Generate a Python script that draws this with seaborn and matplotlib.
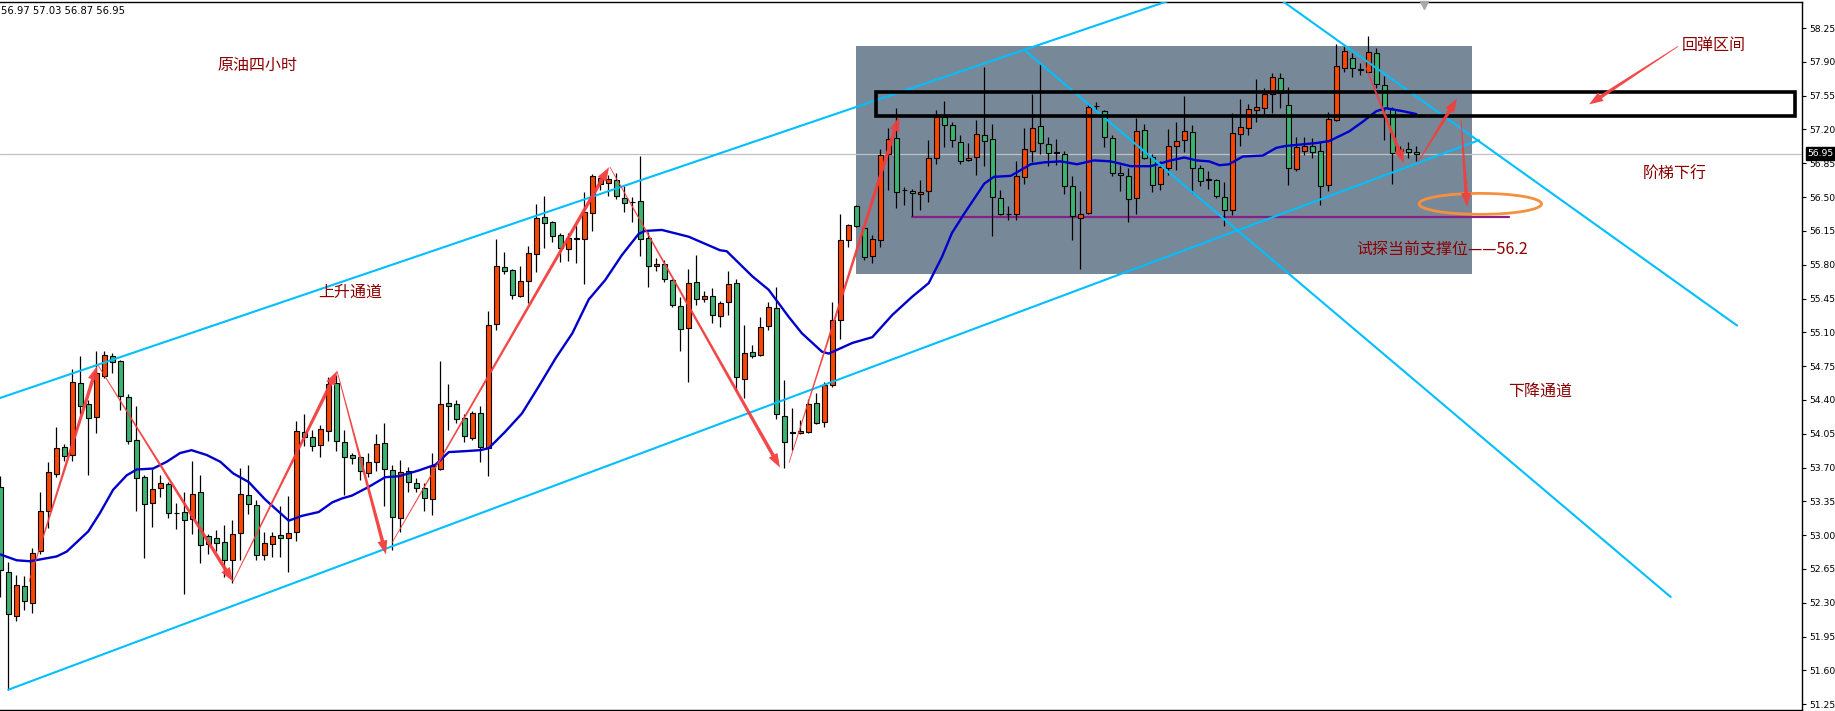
import numpy as np
import matplotlib
matplotlib.use('Agg')
import matplotlib.pyplot as plt
import seaborn as sns
from matplotlib.patches import Rectangle, Ellipse, Polygon
from matplotlib.transforms import IdentityTransform, blended_transform_factory

# 4h crude oil candles
opens = [53.50, 52.62, 52.16, 52.47, 52.30, 52.84, 53.25, 53.63, 53.91, 53.83,
         54.58, 54.36, 54.22, 54.65, 54.86, 54.80, 54.43, 53.99, 53.60, 53.33,
         53.49, 53.53, 53.23, 53.24, 53.17, 53.45, 52.99, 52.97, 52.93, 52.74,
         53.02, 53.42, 53.31, 52.79, 52.91, 53.00, 52.97, 53.03, 54.07, 54.02,
         53.93, 54.08, 54.58, 53.96, 53.83, 53.81, 53.64, 53.76, 53.95, 53.67,
         53.18, 53.66, 53.54, 53.49, 53.37, 53.69, 54.37, 54.36, 54.21, 54.01,
         54.26, 53.90, 55.19, 55.78, 55.75, 55.48, 55.63, 55.91, 56.29, 56.24,
         56.11, 55.96, 56.07, 56.07, 56.34, 56.64, 56.65, 56.68, 56.49, 56.45,
         56.46, 56.08, 55.79, 55.81, 55.64, 55.37, 55.14, 55.62, 55.44, 55.48,
         55.27, 55.41, 55.61, 54.62, 54.90, 54.87, 55.17, 55.35, 54.23, 54.06,
         54.06, 54.07, 54.37, 54.17, 54.55, 55.23, 56.06, 56.41, 56.18, 55.89,
         56.06, 56.95, 57.11, 56.57, 56.56, 56.53, 56.56, 56.90, 57.33, 57.25,
         57.07, 56.88, 56.92, 57.14, 57.10, 56.49, 56.32, 56.32, 56.71, 56.98,
         57.24, 57.05, 56.96, 56.95, 56.62, 56.28, 56.34, 57.44, 57.39, 57.11,
         56.75, 56.72, 56.49, 57.19, 56.92, 56.64, 56.80, 57.03, 57.09, 57.17,
         56.80, 56.68, 56.68, 56.50, 56.37, 57.15, 57.22, 57.40, 57.42, 57.57,
         57.73, 57.45, 56.79, 56.98, 57.03, 56.98, 56.63, 57.30, 57.84, 57.94,
         57.83, 57.80, 57.99, 57.66, 57.41, 56.98, 57.00, 56.97]
highs = [53.61, 52.72, 52.59, 52.58, 52.87, 53.45, 53.76, 54.12, 53.94, 54.72,
         54.86, 54.40, 54.91, 54.91, 54.89, 54.81, 54.46, 54.34, 53.62, 53.68,
         53.62, 53.55, 53.33, 53.45, 53.77, 53.62, 53.01, 53.05, 53.11, 53.16,
         53.70, 53.73, 53.36, 53.03, 53.03, 53.30, 53.41, 54.18, 54.25, 54.09,
         54.14, 54.64, 54.66, 54.09, 53.85, 53.82, 53.85, 54.05, 54.16, 53.73,
         53.78, 53.71, 53.59, 53.54, 53.85, 54.80, 54.56, 54.40, 54.25, 54.29,
         54.34, 55.32, 56.07, 55.93, 55.76, 55.79, 55.99, 56.43, 56.51, 56.25,
         56.13, 56.13, 56.21, 56.55, 56.74, 56.71, 56.73, 56.75, 56.61, 56.50,
         56.93, 56.14, 55.87, 55.85, 55.65, 55.47, 55.76, 55.90, 55.53, 55.56,
         55.42, 55.73, 55.65, 55.18, 54.97, 55.26, 55.41, 55.57, 54.61, 54.32,
         54.19, 54.41, 54.47, 54.59, 55.41, 56.33, 56.22, 56.42, 56.19, 56.11,
         57.00, 57.22, 57.42, 56.60, 56.58, 56.68, 57.09, 57.40, 57.49, 57.28,
         57.14, 57.06, 57.30, 57.85, 57.26, 56.57, 56.41, 56.87, 57.22, 57.57,
         57.88, 57.12, 57.10, 56.98, 56.72, 56.56, 57.47, 57.48, 57.40, 57.14,
         56.83, 56.80, 57.32, 57.26, 56.95, 56.87, 57.20, 57.28, 57.55, 57.25,
         56.83, 56.77, 56.69, 56.66, 57.37, 57.52, 57.46, 57.72, 57.63, 57.79,
         57.79, 57.64, 57.12, 57.12, 57.11, 57.07, 57.38, 58.08, 58.06, 57.99,
         57.89, 58.17, 58.04, 57.75, 57.43, 57.03, 57.07, 57.03]
lows = [52.36, 51.40, 52.11, 52.23, 52.19, 52.80, 53.07, 53.60, 53.77, 53.77,
        54.25, 53.62, 54.06, 54.63, 54.68, 54.30, 53.94, 53.25, 52.76, 53.08,
        53.40, 53.18, 53.06, 52.39, 53.01, 52.71, 52.81, 52.84, 52.57, 52.50,
        52.74, 53.22, 52.74, 52.74, 52.77, 52.77, 52.62, 52.94, 53.92, 53.87,
        53.81, 53.98, 53.87, 53.42, 53.74, 53.57, 53.60, 53.66, 53.30, 52.85,
        53.03, 53.45, 53.45, 53.25, 53.21, 53.67, 54.09, 54.16, 53.96, 53.99,
        53.76, 53.61, 55.12, 55.70, 55.44, 55.47, 55.40, 55.72, 55.97, 56.04,
        55.83, 55.84, 55.82, 55.60, 56.15, 56.57, 56.51, 56.48, 56.35, 56.24,
        55.89, 55.57, 55.73, 55.62, 55.36, 54.91, 54.59, 55.38, 55.41, 55.20,
        55.16, 55.28, 54.49, 54.42, 54.83, 54.86, 55.12, 54.20, 53.70, 53.88,
        54.05, 54.06, 54.15, 54.12, 54.53, 55.03, 55.98, 56.19, 55.85, 55.82,
        55.98, 56.57, 56.39, 56.42, 56.30, 56.37, 56.45, 56.84, 57.02, 57.02,
        56.84, 56.87, 56.73, 56.82, 56.10, 56.31, 56.26, 56.26, 56.64, 56.86,
        56.95, 56.82, 56.83, 56.53, 56.06, 55.76, 56.32, 57.39, 57.02, 56.72,
        56.56, 56.24, 56.32, 56.89, 56.55, 56.57, 56.73, 56.78, 56.97, 56.54,
        56.62, 56.58, 56.49, 56.20, 56.31, 57.03, 57.14, 57.28, 57.36, 57.37,
        57.42, 56.63, 56.77, 56.94, 56.90, 56.42, 56.56, 57.29, 57.80, 57.74,
        57.76, 57.78, 57.63, 57.09, 56.64, 56.94, 56.91, 56.87]
closes = [52.64, 52.18, 52.48, 52.32, 52.82, 53.25, 53.65, 53.90, 53.82, 54.59,
          54.34, 54.21, 54.68, 54.87, 54.79, 54.44, 53.98, 53.59, 53.32, 53.48,
          53.54, 53.23, 53.23, 53.16, 53.43, 52.90, 52.91, 52.92, 52.74, 53.01,
          53.43, 53.32, 52.79, 52.92, 52.99, 52.97, 53.02, 54.08, 54.02, 53.92,
          54.10, 54.57, 53.97, 53.81, 53.80, 53.66, 53.76, 53.94, 53.68, 53.19,
          53.65, 53.55, 53.49, 53.38, 53.72, 54.36, 54.34, 54.20, 54.03, 54.26,
          53.91, 55.18, 55.79, 55.74, 55.49, 55.63, 55.92, 56.28, 56.23, 56.10,
          55.97, 56.08, 56.07, 56.35, 56.72, 56.70, 56.69, 56.51, 56.44, 56.45,
          56.07, 55.79, 55.81, 55.65, 55.38, 55.13, 55.61, 55.44, 55.48, 55.28,
          55.40, 55.60, 54.64, 54.89, 54.86, 55.16, 55.36, 54.25, 53.96, 54.06,
          54.08, 54.36, 54.16, 54.55, 55.23, 56.06, 56.21, 56.20, 55.88, 56.07,
          56.94, 57.10, 56.55, 56.57, 56.54, 56.55, 56.91, 57.33, 57.25, 57.09,
          56.87, 56.91, 57.15, 57.08, 56.50, 56.32, 56.32, 56.72, 57.00, 57.22,
          57.06, 56.96, 56.96, 56.62, 56.30, 56.33, 57.43, 57.44, 57.12, 56.75,
          56.73, 56.48, 57.18, 56.91, 56.63, 56.81, 57.03, 57.08, 57.18, 56.80,
          56.67, 56.68, 56.51, 56.37, 57.16, 57.23, 57.41, 57.43, 57.57, 57.74,
          57.58, 56.80, 57.02, 57.03, 56.97, 56.62, 57.31, 57.86, 58.01, 57.84,
          57.82, 58.00, 57.67, 57.42, 56.96, 57.00, 56.97, 56.95]

# moving average, read at points along the blue line (candle position, price)
ma_pos = [0, 2.05, 3.71, 7.05, 8.3, 11.0, 12.46, 14.1, 15.8, 17.05, 19.1, 20.8, 22.46,
          23.9, 25.8, 27.5, 29.1, 31.05, 33.1, 36.05, 37.7, 39.8, 41.5, 42.7, 43.96,
          46.05, 48.1, 49.8, 52.3, 54.4, 56.05, 58.1, 59.96, 61.05, 63.1, 65.2, 67.3,
          69.4, 71.5, 73.55, 75.6, 77.7, 79.8, 80.6, 82.7, 86.05, 89.96, 90.8, 94.0,
          96.05, 98.55, 100.2, 102.7, 103.55, 106.5, 109.0, 111.5, 114.0, 116.05,
          117.7, 118.96, 120.5, 123.0, 124.2, 126.3, 128.8, 130.5, 132.55, 134.6,
          136.7, 138.8, 141.3, 143.8, 146.3, 148.0, 149.5, 151.1, 152.4, 153.6, 155.3,
          157.8, 159.5, 160.7, 164.5, 166.1, 168.6, 170.3, 172.0, 173.2, 175.3, 177.0]
ma_val = [52.80, 52.74, 52.73, 52.78, 52.83, 53.04, 53.23, 53.47, 53.62, 53.68, 53.69,
          53.76, 53.85, 53.88, 53.83, 53.76, 53.64, 53.55, 53.37, 53.15, 53.20, 53.24,
          53.34, 53.38, 53.41, 53.50, 53.60, 53.61, 53.67, 53.73, 53.86, 53.87, 53.88,
          53.90, 54.07, 54.26, 54.54, 54.83, 55.09, 55.44, 55.64, 55.90, 56.12, 56.15,
          56.16, 56.09, 55.95, 55.94, 55.68, 55.54, 55.26, 55.09, 54.90, 54.88, 54.99,
          55.05, 55.28, 55.47, 55.61, 55.88, 56.13, 56.33, 56.64, 56.71, 56.72, 56.84,
          56.86, 56.87, 56.84, 56.88, 56.87, 56.82, 56.82, 56.88, 56.91, 56.88, 56.87,
          56.83, 56.84, 56.92, 56.93, 57.01, 57.03, 57.06, 57.08, 57.18, 57.28, 57.39,
          57.42, 57.39, 57.36]

price_ticks = [58.25, 57.90, 57.55, 57.20, 56.85, 56.50, 56.15, 55.80, 55.45, 55.10,
               54.75, 54.40, 54.05, 53.70, 53.35, 53.00, 52.65, 52.30, 51.95, 51.60, 51.25]
last_price = 56.95
support = 56.29

# drawn objects: (position, price) pairs
rise_upper = [(-0.04, 54.42), (146.3, 58.54)]
rise_lower = [(1.0, 51.40), (184.84, 57.09)]
fall_a = [(128.2, 58.01), (208.8, 52.36)]
fall_b = [(160.1, 58.54), (217.1, 55.17)]
arrows = [((3.59, 52.52), (12.09, 54.75)), ((12.21, 54.76), (29.09, 52.52)),
          ((29.09, 52.52), (42.09, 54.70)), ((42.09, 54.70), (48.21, 52.80)),
          ((48.96, 52.92), (76.09, 56.81)), ((76.21, 56.81), (97.46, 53.70)),
          ((98.59, 53.75), (112.34, 57.33)), ((170.34, 57.92), (175.46, 56.85)),
          ((177.2, 56.86), (182.08, 57.52)), ((182.59, 57.30), (183.34, 56.40)),
          ((209.7, 58.06), (198.6, 57.46))]
labels = [('原油四小时', 32.2, 57.86, 'center'), ('上升通道', 43.7, 55.52, 'center'),
          ('回弹区间', 214.2, 58.07, 'center'), ('阶梯下行', 209.25, 56.74, 'center'),
          ('下降通道', 192.5, 54.49, 'center'), ('试探当前支撑位——56.2', 169.5, 55.95, 'left')]

sns.set_theme(style='white')
plt.rcParams['font.family'] = ['Noto Sans CJK SC', 'DejaVu Sans']

fig = plt.figure(figsize=(18.35, 7.11), dpi=100)
ax = fig.add_axes([0, 1 / 711, 1802 / 1835, 708 / 711])
ax.set_xlim(-0.04, 225.21)
ax.set_ylim(51.19, 58.52)

idx = np.arange(len(opens))
o = np.array(opens); h = np.array(highs); l = np.array(lows); c = np.array(closes)
colors = np.where(c > o, '#FF4500', np.where(c < o, '#3CB371', 'black'))
body_lo = np.minimum(o, c)
body_h = np.maximum(np.abs(c - o), 0.004)

# background box and reference lines
ax.add_patch(Rectangle((106.96, 55.70), 77.0, 2.36, facecolor='#778899', edgecolor='none', zorder=0.5))
ax.axhline(last_price, color='#C0C0C0', lw=0.9, zorder=1)
ax.plot([113.9, 188.6], [support, support], color='#861F86', lw=1.6, zorder=2)

# candles
ax.vlines(idx, l, h, color='black', lw=0.9, zorder=3)
ax.bar(idx, body_h, bottom=body_lo, width=0.62, color=colors, edgecolor='black', linewidth=0.8, zorder=3.5)

# moving average
sns.lineplot(x=ma_pos, y=ma_val, color='#0000CD', lw=1.7, ax=ax, zorder=4)

for seg in (rise_upper, rise_lower, fall_a, fall_b):
    ax.plot([seg[0][0], seg[1][0]], [seg[0][1], seg[1][1]], color='#00BFFF', lw=1.5, zorder=4.5)

ax.add_patch(Rectangle((109.5, 57.34), 114.8, 0.245, fill=False, edgecolor='black', lw=2.6, zorder=5))
ax.add_patch(Ellipse((185.0, 56.43), 15.3, 0.217, fill=False, edgecolor='#F5913E', lw=2.0, zorder=6))


def taper_arrow(ax, start, end, w0=0.8, w1=3.6, hw=10.0, hl=14.0, color='#F23E3E'):
    p0 = ax.transData.transform(start)
    p1 = ax.transData.transform(end)
    d = p1 - p0
    u = d / np.hypot(*d)
    n = np.array([-u[1], u[0]])
    b = p1 - u * hl
    pts = [p0 + n * w0 / 2, b + n * w1 / 2, b + n * hw / 2, p1,
           b - n * hw / 2, b - n * w1 / 2, p0 - n * w0 / 2]
    ax.add_patch(Polygon(pts, closed=True, facecolor=color, edgecolor='none',
                         alpha=0.95, transform=IdentityTransform(), zorder=6))


for s, e in arrows:
    taper_arrow(ax, s, e)

for txt, x, y, ha in labels:
    ax.text(x, y, txt, color='#8B0000', fontsize=11.5, ha=ha, va='center', zorder=7)

# axis styling
ax.set_xticks([])
ax.set_yticks(price_ticks)
ax.set_yticklabels([f'{v:.2f}' for v in price_ticks], family='DejaVu Sans')
ax.yaxis.tick_right()
ax.tick_params(axis='y', direction='out', length=3, width=0.8, labelsize=6.7, pad=2,
               colors='black', right=True, left=False)
for side in ('top', 'right', 'bottom'):
    ax.spines[side].set_visible(True)
    ax.spines[side].set_color('black')
    ax.spines[side].set_linewidth(1.0)
ax.spines['left'].set_visible(False)
ax.set_xlabel('')
ax.set_ylabel('')

tr = blended_transform_factory(ax.transAxes, ax.transData)
ax.text(1.003, last_price, f'{last_price:.2f}', transform=tr, color='white', fontsize=6.7,
        family='DejaVu Sans', ha='left', va='center', zorder=8,
        bbox=dict(boxstyle='square,pad=0.2', fc='black', ec='black'))
ax.plot(178.0, 58.49, marker='v', color='#A8A8A8', ms=6, clip_on=False, zorder=8)

fig.text(1 / 1835, 1 - 11 / 711, f'{opens[-1]:.2f} {highs[-1]:.2f} {lows[-1]:.2f} {closes[-1]:.2f}',
         fontsize=7.2, family='DejaVu Sans', ha='left', va='center', color='black')

fig.savefig('out.png', dpi=100)
